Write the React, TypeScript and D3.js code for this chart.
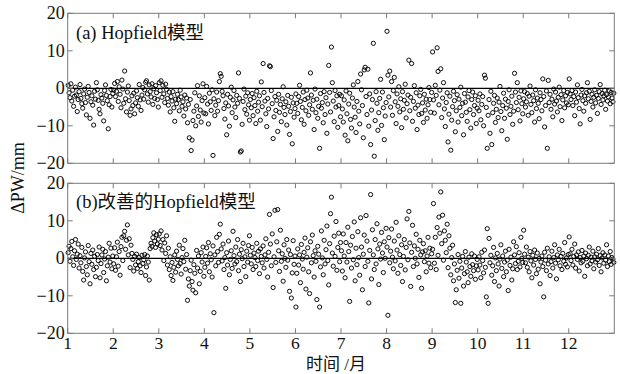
import React from "react";
import * as d3 from "d3";

// Tick labels
const xTicks = [1, 2, 3, 4, 5, 6, 7, 8, 9, 10, 11, 12];
const yTicks = [-20, -10, 0, 10, 20];

// Panel (a) Hopfield model: ΔPW (mm), listed month by month
const aM1 = [0.8,-1.2,-2.5,1.2,-3.4,-0.5,-4.8,-2.1,0.3,-1.8,-6.2,-3.0,-0.9,1.0,-2.7,-4.1,-5.3,-1.5,-0.2,-3.8,-7.1,-2.4,0.5,-1.1,-8.0,-3.6,-2.0,-4.5,-9.8,-0.8,-2.9,1.5,-0.4,-3.2,-5.6,-6.8,-1.7,-2.6,-4.0,-8.7,-0.6,0.9,-1.9,-3.3,-10.8,-4.4,-2.2,-0.3,-5.0,-1.4];
const aM2 = [-0.5,1.3,-2.2,-0.8,1.8,-3.5,0.4,-1.6,-5.2,2.2,-0.2,-4.0,4.6,-2.8,-6.3,-1.0,0.6,-3.3,-7.2,-5.5,-2.0,-4.6,-1.3,-6.8,-3.9,-0.7,-2.5,-4.8,1.0,-3.1,-5.9,-1.8,0.2,-2.9,-0.4,1.6,2.0,-1.5,-3.7,0.9,-0.9,-2.3,1.2,-4.3,-0.1,-2.7,0.7,-1.2,-3.0,-5.0];
const aM3 = [1.5,-0.6,2.0,-2.4,0.8,-1.5,-3.8,1.1,-0.3,-2.7,-4.5,-1.0,-6.3,-2.2,-3.4,-0.9,-5.2,-8.8,-2.9,-4.1,-1.6,-3.0,-6.0,-0.5,-2.3,-4.8,-3.6,-7.4,-1.8,-5.5,-2.6,-9.2,-4.3,-13.2,-3.0,-16.6,-13.8,-8.6,-6.1,-1.2,-10.0,-4.7,0.7,-7.5,-2.0,-5.8,-9.0,-3.3,1.2,-6.6];
const aM4 = [-2.5,-6.8,0.5,-4.2,-9.5,-1.3,-3.6,-5.9,-0.4,-17.9,-2.8,-7.3,-4.5,-1.0,-6.1,-3.3,1.8,3.9,3.2,-0.8,-2.0,-5.4,-8.2,-3.9,-12.4,-1.6,-4.7,-10.1,-2.4,0.3,-6.5,-3.1,-0.6,-5.0,-7.8,-1.9,-4.0,4.1,-2.7,-17.0,-16.7,-9.6,-3.5,-0.2,-5.7,-2.1,-6.9,-1.2,-4.4,-8.5];
const aM5 = [-3.0,-5.2,-1.4,-7.3,-2.5,-4.6,-9.4,-0.8,-6.1,-3.7,-2.0,-8.5,1.7,-4.9,6.6,-1.1,-3.4,-6.8,-10.2,-2.7,-5.5,6.0,5.8,-0.6,-4.1,-13.4,-7.6,-2.2,-5.9,-3.2,-11.5,-1.6,-6.4,-4.3,-8.9,-2.8,0.4,-5.1,-7.0,-3.6,-9.8,-1.9,-4.8,-12.3,-6.2,-2.4,-14.8,-3.9,-7.7,-5.4];
const aM6 = [-1.5,-4.0,-6.7,-2.2,0.8,-3.5,-8.4,-5.1,-1.0,-9.6,-3.0,-6.0,-0.5,-2.6,-7.2,-4.4,4.1,-1.8,-5.6,-3.2,-11.0,-0.2,-6.5,-2.9,-8.0,-4.8,-16.0,-1.4,-5.3,-3.8,-9.2,-0.9,-7.0,-2.5,-12.0,-4.2,6.1,-1.1,-6.3,11.0,1.5,-3.4,-8.9,-0.6,-5.0,-2.0,-10.4,-4.6,-1.6,-7.6];
const aM7 = [-2.0,-5.5,-9.0,-3.1,-12.5,-0.7,-6.8,-14.0,-4.2,-1.3,-8.3,-10.6,-2.6,0.9,-5.0,-7.7,-11.8,-3.5,1.8,-6.1,-9.5,3.8,-0.4,-4.6,-13.2,4.9,5.6,-2.2,-7.0,5.1,-10.1,-1.5,-15.0,-5.8,-3.0,12.0,-18.1,-8.6,-0.9,-4.0,-11.2,-6.5,-2.7,2.4,-9.9,-1.0,-5.2,-13.7,-7.4,-3.8];
const aM8 = [15.2,3.5,-2.3,4.6,-5.0,1.8,-7.2,-0.6,2.9,-3.6,-9.4,-1.5,-4.8,0.4,-6.3,-2.8,-10.5,-0.9,-5.6,-3.2,1.1,-7.9,-4.1,-1.8,7.5,-6.0,-2.4,6.6,-8.8,-3.5,0.7,-5.3,-1.2,-11.0,-4.5,-7.0,-2.0,-0.3,-6.7,-3.9,-9.1,-1.6,-5.8,-2.9,-8.0,-4.4,0.2,-3.0,-6.4,-1.1];
const aM9 = [9.7,-3.1,-6.6,0.8,-1.9,10.8,4.5,-4.4,-0.5,5.2,-7.8,-2.6,1.5,-5.5,-10.2,-3.8,-1.2,-14.3,-6.9,-2.1,-16.5,-8.5,-4.9,-0.8,-3.3,-11.6,-6.0,-1.7,-9.0,-2.9,-5.1,0.3,-7.3,-4.0,-12.4,-1.4,-3.7,-6.4,-8.8,-2.3,-0.6,-5.7,-10.6,-3.0,-1.0,-7.0,-4.6,-2.0,-9.4,-5.3];
const aM10 = [-3.2,-6.0,-1.5,-8.4,-4.3,-2.2,-10.0,3.5,2.7,-5.1,-16.0,-7.2,-3.0,-12.0,-0.8,-15.0,-6.5,-4.0,-1.9,-9.1,-5.6,-2.6,-7.8,-3.7,0.5,-6.2,-11.3,-4.6,-1.3,-8.0,-2.9,-5.3,-13.6,-3.5,-0.4,-7.0,-4.8,-2.1,-9.6,-6.1,4.0,-1.0,-3.8,1.5,-5.7,-2.4,-8.7,-0.7,-4.1,-6.8];
const aM11 = [-2.8,-0.9,-5.0,-3.6,-1.4,-7.2,-2.1,0.6,-4.3,-6.5,-1.8,-3.3,-9.0,-0.4,-5.4,-2.6,-4.0,-8.1,-1.2,-3.0,-6.0,2.5,-2.2,-10.3,-4.6,-0.7,-16.0,2.1,-3.8,-1.6,-5.6,-2.9,-7.6,-0.2,-4.2,-1.0,-3.4,-6.3,-2.4,0.3,-4.9,-1.7,-8.6,-3.1,-0.6,-5.2,-2.0,-3.9,-1.1,-4.4];
const aM12 = [2.5,-1.5,-3.0,-0.6,-4.6,-2.2,-7.3,-1.0,-3.7,0.9,-2.5,-5.4,-9.5,-1.8,-0.3,-3.3,-6.1,-2.0,-4.0,-1.2,1.5,-2.8,-0.8,-8.3,-3.5,-1.6,-5.0,-2.4,-0.4,-3.9,-1.9,-6.7,-2.7,-0.9,1.0,-4.3,-1.4,-3.1,-2.0,-0.5,-5.6,-1.7,-3.4,-2.3,-0.7,-4.1,-1.1,-2.6,-3.6,-1.3];

// Panel (b) improved Hopfield model
const bM1 = [1.5,3.2,-0.8,2.6,4.5,0.4,-1.9,2.0,5.0,-0.3,1.1,3.8,-2.6,0.7,-1.2,2.9,-3.5,-5.8,0.1,1.7,-2.2,-4.4,3.4,-0.9,-6.8,1.3,-1.6,2.2,-3.0,0.5,-4.9,-2.4,1.0,-0.6,3.0,-5.2,-1.4,0.9,2.4,-3.8,-0.2,1.8,-6.0,-2.0,0.3,4.0,-1.0,2.7,-2.8,0.6];
const bM2 = [-1.5,2.8,-3.2,0.4,4.3,-2.1,1.8,-4.5,3.1,5.6,-0.6,6.0,7.2,2.4,4.8,8.9,0.9,5.2,-2.5,3.5,1.3,-0.3,-3.4,0.5,-1.8,1.1,-2.7,-0.9,0.2,-2.0,-3.8,0.8,-1.4,-0.4,1.0,-4.6,-2.3,0.6,-1.0,-5.8,2.6,4.0,3.2,5.5,6.8,4.6,2.9,6.3,3.8,5.1];
const bM3 = [6.5,3.4,7.3,2.2,5.0,-0.6,4.1,1.3,6.0,-1.8,2.7,-3.0,0.4,-4.6,-1.1,-5.9,-2.4,0.9,-3.7,1.9,-0.3,-2.0,3.5,-1.4,-4.2,0.2,2.6,-0.9,4.8,-2.9,1.0,-11.2,-5.5,-7.4,-3.3,-0.5,-6.2,-8.5,-1.7,-4.0,-9.2,2.1,-2.6,0.6,-6.8,-3.5,1.5,-1.0,3.0,-4.8];
const bM4 = [-2.4,0.5,2.8,-1.3,4.2,-3.6,1.2,-0.4,-5.0,3.3,-14.5,0.9,-2.0,5.6,1.8,-1.1,6.4,9.1,2.5,-0.7,3.8,-3.0,0.2,-8.0,1.5,-1.8,4.6,-4.4,-0.3,2.0,-2.7,7.2,0.7,-1.5,3.0,-0.9,5.0,-3.3,1.1,-6.2,2.3,-0.1,4.0,-2.2,0.4,-4.9,1.9,-1.0,3.4,6.0];
const bM5 = [0.8,-1.5,2.9,-3.0,1.4,0.2,-2.2,4.0,-0.6,1.9,-4.1,2.5,0.5,-1.2,3.3,-2.6,0.9,5.2,-0.3,-5.0,1.6,11.7,3.8,-2.0,6.5,-7.8,0.4,12.8,-1.1,4.4,13.0,2.0,-3.5,7.5,-0.8,1.2,-6.1,3.6,0.0,-2.4,5.0,-0.5,2.2,-8.8,1.0,-10.6,-3.9,4.7,-1.6,0.6];
const bM6 = [-13.0,-4.0,2.5,-1.8,0.9,-6.5,3.7,-0.2,-2.9,1.6,5.4,-8.2,0.3,2.8,-3.6,-9.4,4.4,-1.2,6.2,0.7,-5.0,2.0,-0.8,-11.0,3.2,1.1,-13.0,-2.3,7.3,0.1,-4.4,4.8,-1.5,2.3,8.6,-0.6,-7.1,3.9,11.9,16.3,1.4,-2.1,5.9,0.5,9.8,-3.2,2.9,6.7,-0.9,4.2];
const bM7 = [2.0,-3.4,6.5,0.6,-5.2,4.2,-1.0,8.3,1.8,-11.5,3.5,-2.6,5.8,-0.4,9.7,-6.0,2.7,-1.7,7.1,0.2,-4.5,10.8,3.0,-8.4,1.1,6.2,-2.2,11.4,4.6,-0.8,-11.9,2.1,17.0,-5.5,7.6,0.9,-3.0,5.0,-1.5,9.2,2.5,-7.0,3.8,-0.2,6.9,1.4,-3.8,4.4,0.0,8.0];
const bM8 = [3.0,-15.2,5.5,-1.2,1.9,7.8,0.3,-2.8,4.6,-0.7,9.6,2.2,-4.0,6.0,1.0,-1.9,3.6,-6.2,0.5,5.0,-3.1,2.9,10.5,-0.4,12.5,4.1,-7.5,1.6,8.8,-2.2,3.3,0.0,6.4,-1.5,2.4,-5.1,4.8,0.9,-8.0,1.7,3.9,-0.9,2.0,-3.6,0.6,5.6,-1.3,2.7,-2.5,1.2];
const bM9 = [2.4,14.6,-1.3,5.6,-3.0,8.2,0.8,11.0,6.7,17.7,3.9,11.5,-0.5,7.3,4.8,1.5,9.1,-2.5,6.0,2.7,-4.4,0.2,3.5,-6.0,-1.5,-11.8,-8.4,-3.2,1.0,-5.3,-0.8,-12.0,-2.6,0.5,-7.4,-4.1,1.8,-1.0,-3.6,-6.5,0.3,-2.2,-4.8,1.2,-1.7,-3.3,0.6,-5.6,-2.0,-0.3];
const bM10 = [-3.1,0.4,-1.8,-5.2,1.6,-0.6,-3.9,2.2,-2.4,-10.3,7.9,-12.0,5.3,-1.2,0.8,-4.5,-2.0,2.9,-6.2,0.1,-3.3,1.3,-1.5,-7.4,-0.2,3.6,-2.7,0.6,-4.9,-1.0,1.9,-3.6,-0.5,-8.6,2.4,-1.9,0.3,-5.8,-2.8,4.4,0.9,-1.4,3.1,-3.0,-0.8,1.5,-2.3,5.6,0.0,-1.1];
const bM11 = [7.5,1.1,-1.2,3.0,-2.4,0.3,-3.6,1.8,-0.7,-5.2,0.8,-1.8,2.2,-0.3,-4.1,1.4,-2.9,0.0,-6.8,-1.0,0.6,-2.2,-10.3,1.6,-0.5,-3.3,2.7,-1.5,0.4,-4.6,-0.9,1.9,-2.6,0.2,3.6,-1.3,-5.5,0.9,-0.4,2.4,-2.0,0.5,-3.0,1.3,-0.8,4.2,-1.6,0.1,-2.3,1.0];
const bM12 = [5.7,1.2,-0.6,2.4,-1.8,0.5,3.8,-2.6,0.9,-0.3,1.7,-3.4,0.2,-1.2,2.1,-0.8,0.6,-4.8,1.4,-0.1,-2.0,0.8,3.0,-1.5,0.3,-0.7,1.9,-2.8,0.4,-1.0,1.1,-0.4,2.6,-1.9,0.7,-3.6,0.1,1.5,-1.3,0.9,-0.5,3.6,-2.2,0.6,-0.9,1.8,-1.6,0.2,-0.2,-1.1];

const seriesA = [aM1, aM2, aM3, aM4, aM5, aM6, aM7, aM8, aM9, aM10, aM11, aM12];
const seriesB = [bM1, bM2, bM3, bM4, bM5, bM6, bM7, bM8, bM9, bM10, bM11, bM12];

const W = 620;
const H = 374;
const left = 67.7;
const right = 614.3;
const panels = [
  { top: 13.3, bottom: 163.3, data: seriesA, label: "(a) Hopfield模型", labelY: 38.5 },
  { top: 183.3, bottom: 333.3, data: seriesB, label: "(b)改善的Hopfield模型", labelY: 208 },
];

const serifStyle = { fontFamily: '"Liberation Serif", "Noto Sans CJK SC", serif' };
const frameColor = "#7a7a7a";

function toPoints(months: number[][]) {
  const pts: { t: number; v: number }[] = [];
  months.forEach((vals, mi) => {
    vals.forEach((v, i) => {
      pts.push({ t: mi + 1 + (i + 0.5) / vals.length, v });
    });
  });
  return pts;
}

export default function App() {
  const x = d3.scaleLinear().domain([1, 13]).range([left, right]);
  return (
    <svg
      width={W}
      height={H}
      style={{ position: "absolute", left: 0, top: 0, background: "#fff" }}
    >
      <rect x={0} y={0} width={W} height={H} fill="#fff" />
      {panels.map((p, pi) => {
        const y = d3.scaleLinear().domain([-20, 20]).range([p.bottom, p.top]);
        const pts = toPoints(p.data);
        return (
          <g key={pi}>
            <line x1={left} x2={right} y1={y(0)} y2={y(0)} stroke="#000" strokeWidth={1.2} />
            {pts.map((d, i) => (
              <circle
                key={i}
                cx={x(d.t)}
                cy={y(d.v)}
                r={2.1}
                fill="none"
                stroke="#000"
                strokeWidth={0.95}
              />
            ))}
            <rect
              x={left}
              y={p.top}
              width={right - left}
              height={p.bottom - p.top}
              fill="none"
              stroke={frameColor}
              strokeWidth={1}
            />
            {xTicks.map((t) => (
              <g key={"xt" + t}>
                <line x1={x(t)} x2={x(t)} y1={p.bottom} y2={p.bottom - 5} stroke={frameColor} />
                <line x1={x(t)} x2={x(t)} y1={p.top} y2={p.top + 5} stroke={frameColor} />
              </g>
            ))}
            {yTicks.map((t) => (
              <g key={"yt" + t}>
                <line x1={left} x2={left + 5} y1={y(t)} y2={y(t)} stroke={frameColor} />
                <line x1={right} x2={right - 5} y1={y(t)} y2={y(t)} stroke={frameColor} />
                <text x={left - 3} y={y(t) + 6} textAnchor="end" fontSize={18} fill="#111" style={serifStyle}>
                  {t < 0 ? "\u2212" + Math.abs(t) : String(t)}
                </text>
              </g>
            ))}
            <text x={76} y={p.labelY} fontSize={18.5} fill="#111" style={serifStyle}>
              {p.label}
            </text>
          </g>
        );
      })}
      {xTicks.map((t) => (
        <text key={"xl" + t} x={x(t)} y={348.5} textAnchor="middle" fontSize={17.5} fill="#111" style={serifStyle}>
          {t}
        </text>
      ))}
      <text x={336} y={369.5} textAnchor="middle" fontSize={17} fill="#111" style={serifStyle}>
        时间 /月
      </text>
      <text
        transform="translate(24,178) rotate(-90)"
        textAnchor="middle"
        fontSize={18}
        fill="#111"
        style={serifStyle}
      >
        ΔPW/mm
      </text>
    </svg>
  );
}
